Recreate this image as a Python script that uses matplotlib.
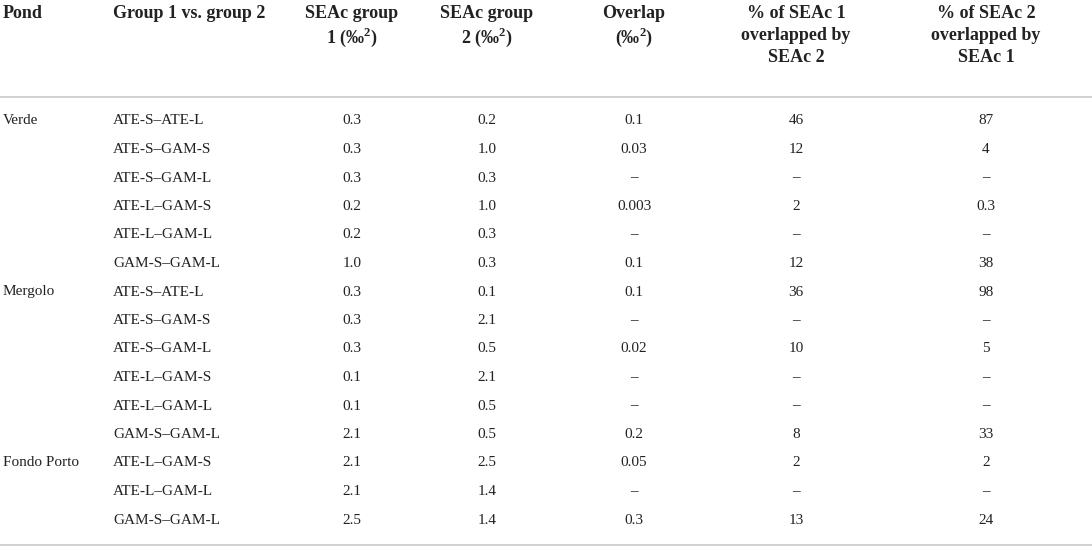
import matplotlib
matplotlib.use("Agg")
import matplotlib.pyplot as plt

plt.rcParams.update({
    "font.family": ["Liberation Serif", "DejaVu Serif"],
    "mathtext.fontset": "custom",
    "mathtext.rm": "Liberation Serif",
    "mathtext.bf": "Liberation Serif:bold",
})

# Table content
headers = [
    ["Pond"],
    ["Group 1 vs. group 2"],
    ["SEAc group", "1 (‰$^{\\mathbf{2}}$)"],
    ["SEAc group", "2 (‰$^{\\mathbf{2}}$)"],
    ["Overlap", "(‰$^{\\mathbf{2}}$)"],
    ["% of SEAc 1", "overlapped by", "SEAc 2"],
    ["% of SEAc 2", "overlapped by", "SEAc 1"],
]

ponds = ["Verde", "", "", "", "", "",
         "Mergolo", "", "", "", "", "",
         "Fondo Porto", "", ""]

pairs = ["ATE-S–ATE-L", "ATE-S–GAM-S", "ATE-S–GAM-L", "ATE-L–GAM-S",
         "ATE-L–GAM-L", "GAM-S–GAM-L",
         "ATE-S–ATE-L", "ATE-S–GAM-S", "ATE-S–GAM-L", "ATE-L–GAM-S",
         "ATE-L–GAM-L", "GAM-S–GAM-L",
         "ATE-L–GAM-S", "ATE-L–GAM-L", "GAM-S–GAM-L"]

seac1 = ["0.3", "0.3", "0.3", "0.2", "0.2", "1.0",
         "0.3", "0.3", "0.3", "0.1", "0.1", "2.1",
         "2.1", "2.1", "2.5"]

seac2 = ["0.2", "1.0", "0.3", "1.0", "0.3", "0.3",
         "0.1", "2.1", "0.5", "2.1", "0.5", "0.5",
         "2.5", "1.4", "1.4"]

overlap = ["0.1", "0.03", "–", "0.003", "–", "0.1",
           "0.1", "–", "0.02", "–", "–", "0.2",
           "0.05", "–", "0.3"]

pct1 = ["46", "12", "–", "2", "–", "12",
        "36", "–", "10", "–", "–", "8",
        "2", "–", "13"]

pct2 = ["87", "4", "–", "0.3", "–", "38",
        "98", "–", "5", "–", "–", "33",
        "2", "–", "24"]

columns = [ponds, pairs, seac1, seac2, overlap, pct1, pct2]

# Layout (pixel coordinates)
col_x = [3, 113, 352, 487, 634, 796, 986]
col_ha = ["left", "left", "center", "center", "center", "center", "center"]
header_y = [12, 34, 56]
row_y0 = 121
row_step = 28.5
text_color = "#222222"
rule_color = "#c8c8c8"

fig = plt.figure(figsize=(10.92, 5.5), dpi=100)
ax = fig.add_axes([0, 0, 1, 1])
ax.set_xlim(0, 1092)
ax.set_ylim(550, 0)
ax.axis("off")

for x, ha, lines in zip(col_x, col_ha, headers):
    for y, line in zip(header_y, lines):
        ax.text(x, y, line, ha=ha, va="center_baseline", fontsize=13,
                fontweight="bold", color=text_color)

for x, ha, values in zip(col_x, col_ha, columns):
    for i, v in enumerate(values):
        ax.text(x, row_y0 + i * row_step, v, ha=ha, va="center",
                fontsize=11, color=text_color)

ax.axhline(97, color=rule_color, linewidth=1.2)
ax.axhline(545, color=rule_color, linewidth=1.2)

fig.savefig("out.png", dpi=100)
plt.close(fig)
